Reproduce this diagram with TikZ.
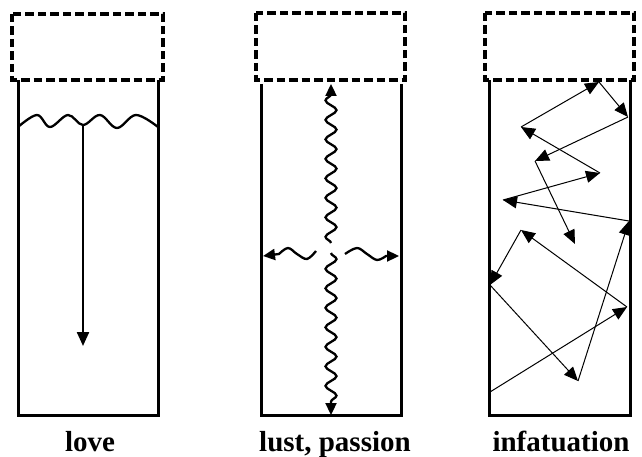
\documentclass[tikz,border=0pt]{standalone}
\usepackage{fontspec}
\setmainfont{Liberation Serif}
\usetikzlibrary{arrows.meta,decorations.pathmorphing}
\begin{document}
\begin{tikzpicture}[x=1pt,y=-1pt,
  lid/.style={draw=black,line width=3.2pt,dash pattern=on 8.5pt off 4pt},
  jar/.style={draw=black,line width=3pt},
  lbl/.style={anchor=base,font=\fontsize{29}{29}\selectfont\bfseries,inner sep=0pt},
  bounce/.style={line width=1pt,-{Triangle[length=14pt,width=12pt]}},
  wig/.style={line width=2.3pt,decorate,decoration={snake,amplitude=5.5pt,segment length=19.5pt,post length=6pt}},
  wtip/.style={-{Triangle[length=12pt,width=11pt]}}]
\useasboundingbox (0,0) rectangle (642,457);
% ---- love ----
\draw[lid] (12,14) rectangle (163,80);
\draw[jar] (18,80) -- (18,415) -- (158,415) -- (158,80);
\draw[line width=2.3pt] plot[smooth,tension=0.6] coordinates {(18,127) (37,115) (50,127) (68,115) (83,125) (100,115) (117,128) (136,115) (158,127)};
\coordinate (l0) at (83,125);
\coordinate (l1) at (83,346);
\draw[line width=2.3pt,-{Triangle[length=14pt,width=12pt]}] (l0) -- (l1);
\node[lbl] (t1) at (90,451) {love};
% ---- lust, passion ----
\draw[lid] (256,13) rectangle (405,80);
\draw[jar] (261,84) -- (261,415) -- (401,415) -- (401,84);
\coordinate (u0) at (331,243);
\coordinate (u1) at (331,84);
\coordinate (d0) at (331,253);
\coordinate (d1) at (331,415);
\draw[wig,wtip] (u0) -- (u1);
\draw[wig,wtip] (d0) -- (d1);
\coordinate (h0) at (316,251);
\coordinate (h1) at (263,256);
\coordinate (r0) at (345,254);
\coordinate (r1) at (399,256);
\draw[line width=2.3pt,wtip] plot[smooth,tension=0.6] coordinates {(h0) (307,259) (297,254) (288,248) (279,254)} -- (h1);
\draw[line width=2.3pt,wtip] plot[smooth,tension=0.6] coordinates {(r0) (357,248) (367,254) (377,260) (386,256)} -- (r1);
\node[lbl] (t2) at (335,451) {lust, passion};
% ---- infatuation ----
\draw[lid] (485,13) rectangle (634,80);
\draw[jar] (489,80) -- (489,415) -- (630,415) -- (630,80);
\coordinate (p0) at (490,392);
\coordinate (p1) at (627,307);
\coordinate (p2) at (521,230);
\coordinate (p3) at (490,285);
\coordinate (p4) at (578,381);
\coordinate (p5) at (629,221);
\coordinate (p6) at (503,200);
\coordinate (p7) at (600,173);
\coordinate (p8) at (521,127);
\coordinate (p9) at (599,82);
\coordinate (p10) at (628,117);
\coordinate (p11) at (535,161);
\coordinate (p12) at (575,244);
\draw[bounce] (p0) -- (p1);
\draw[bounce] (p1) -- (p2);
\draw[bounce] (p2) -- (p3);
\draw[bounce] (p3) -- (p4);
\draw[bounce] (p4) -- (p5);
\draw[bounce] (p5) -- (p6);
\draw[bounce] (p6) -- (p7);
\draw[bounce] (p7) -- (p8);
\draw[bounce] (p8) -- (p9);
\draw[bounce] (p9) -- (p10);
\draw[bounce] (p10) -- (p11);
\draw[bounce] (p11) -- (p12);
\node[lbl] (t3) at (561,451) {infatuation};
\end{tikzpicture}
\end{document}
